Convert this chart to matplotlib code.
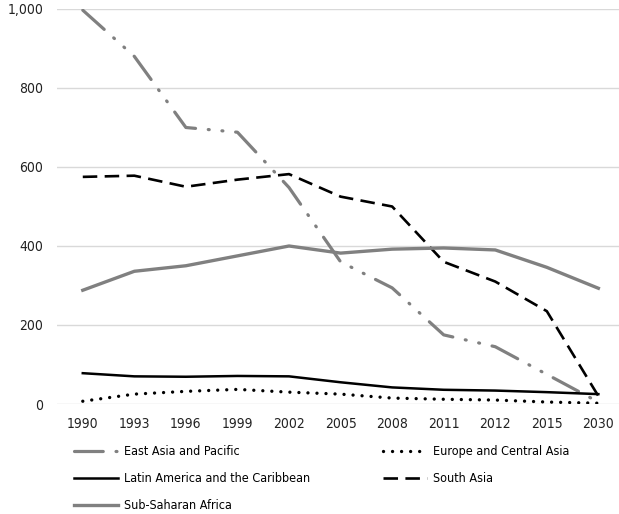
import matplotlib.pyplot as plt
import numpy as np

plt.rcParams['font.family'] = ['DejaVu Sans']
plt.rcParams['font.stretch'] = 'condensed'

years = ['1990', '1993', '1996', '1999', '2002', '2005', '2008', '2011', '2012', '2015', '2030']
east_asia = [997, 880, 700, 688, 548, 360, 294, 175, 145, 75, 5]
europe = [7, 25, 32, 37, 30, 25, 15, 12, 10, 5, 2]
latin = [78, 70, 69, 71, 70, 55, 42, 36, 34, 30, 25]
south_asia = [575, 578, 550, 568, 582, 525, 500, 360, 310, 235, 20]
africa = [288, 336, 350, 375, 400, 382, 392, 395, 390, 346, 293]

fig = plt.figure(figsize=(6.19, 5.14), dpi=100)
ax = fig.add_axes([57/619, 1-404/514, 1-57/619, (404-9)/514])
x = np.arange(len(years))

gray = '#808080'
l1, = ax.plot(x, east_asia, color=gray, lw=2.3, dashes=(9, 4, 0.3, 4, 0.3, 4),
              dash_capstyle='round', label='East Asia and Pacific')
l2, = ax.plot(x, europe, color='black', lw=2.4, dashes=(0.01, 2.7),
              dash_capstyle='round', label='Europe and Central Asia')
l3, = ax.plot(x, latin, color='black', lw=1.8, label='Latin America and the Caribbean')
l4, = ax.plot(x, south_asia, color='black', lw=1.9, dashes=(5.5, 2.8),
              label='South Asia')
l5, = ax.plot(x, africa, color=gray, lw=2.4, label='Sub-Saharan Africa')

ax.set_xlim(-0.5, 10.4)
ax.set_ylim(0, 1000)
ax.set_yticks([0, 200, 400, 600, 800, 1000])
ax.set_yticklabels(['0', '200', '400', '600', '800', '1,000'])
ax.set_xticks(x)
ax.set_xticklabels(years)
ax.grid(axis='y', color='#d9d9d9', lw=1)
ax.set_axisbelow(True)
for s in ax.spines.values():
    s.set_visible(False)
ax.tick_params(length=0, labelsize=10, colors='#222222')
ax.tick_params(axis='y', pad=10)
ax.tick_params(axis='x', pad=9)

leg_kw = dict(loc='upper left', frameon=False, fontsize=9, handlelength=3.5,
              handletextpad=0.5, labelspacing=1.12, borderpad=0)
leg1 = fig.legend([l1, l3, l5], [l1.get_label(), l3.get_label(), l5.get_label()],
                  bbox_to_anchor=(68/619, 1-439/514), **leg_kw)
leg2 = fig.legend([l2, l4], [l2.get_label(), l4.get_label()],
                  bbox_to_anchor=(377/619, 1-439/514), **leg_kw)

fig.savefig('out.png', dpi=100)
